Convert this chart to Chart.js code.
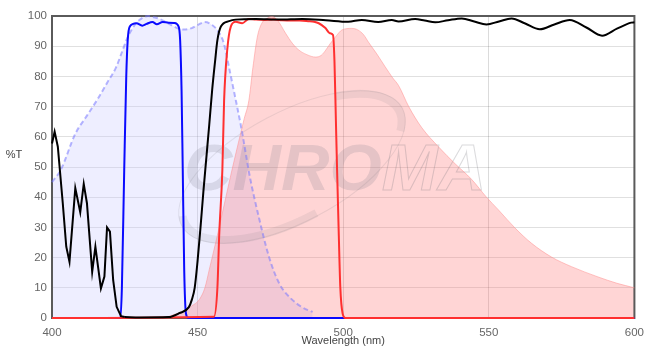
<!DOCTYPE html>
<html>
<head>
<meta charset="utf-8">
<script src="https://cdn.jsdelivr.net/npm/chart.js@4.4.1/dist/chart.umd.min.js"></script>
<style>
  html, body { margin: 0; padding: 0; background: #fff; }
  #wrap { width: 652px; height: 354px; }
</style>
</head>
<body>
<div id="wrap"><canvas id="chart"></canvas></div>
<script>
// excitation spectrum (dashed, lavender fill)
const exWl = [400, 403, 408, 412, 416, 419, 422, 424, 426, 428, 430, 433, 435, 437, 439, 441, 443, 445.5, 448, 450, 452.5, 455, 457, 459, 461, 462.5, 465, 468, 471, 474.5, 478, 482, 486, 489.5];
const exT  = [45, 49, 61, 67, 73, 78, 83, 88, 93, 96.5, 98.7, 100, 99.6, 99, 98, 97, 96, 95.5, 96, 97, 98, 97, 95, 91, 82, 75, 63, 46.5, 33.5, 20.3, 11.5, 6.5, 3.5, 2];

// emission spectrum (pink fill)
const emWl = [440, 443, 446, 448, 450.5, 452.5, 454, 456.7, 459.7, 461.8, 464, 466, 467.6, 469, 470.5, 472, 474, 475.5, 477.5, 480.2, 482.5, 484.8, 487.5, 490.5, 492.5, 494, 495.5, 497.3, 499.6, 503, 505, 507, 508.7, 511.5, 514.4, 517, 519, 522.5, 527, 532.7, 538.5, 544, 549.2, 553.3, 559, 564.6, 571.5, 578.4, 587.5, 594, 600];
const emT  = [0.5, 1.5, 2.6, 4, 6, 10, 16, 27, 40, 49, 58, 66, 72, 83, 93, 97.5, 99.3, 99.8, 98.5, 94.3, 91, 88.7, 87.2, 86.4, 87, 88.7, 90.8, 93, 95.4, 95.9, 95.4, 93.8, 91.3, 87.5, 83.2, 79.5, 77, 70, 63, 56.7, 51, 46, 40, 35.8, 29.8, 24.8, 20.2, 17, 13.6, 11.5, 10];

// excitation filter (blue)
const blueWl = [400, 423.5, 424, 424.8, 425.5, 426, 426.7, 429, 431, 432.5, 434.5, 436, 438, 440, 442, 443.5, 444, 444.5, 444.9, 445.4, 446, 446.8, 500, 600];
const blueT  = [0, 0, 10, 49, 80, 92, 96.5, 97.6, 96.8, 97.4, 98, 97.3, 98, 97.8, 97.7, 96.5, 92, 75, 49, 16, 1.5, 0, 0, 0];

// dichroic (black)
const blackWl = [400, 400.9, 402, 403.7, 404.9, 406, 408, 409.7, 410.9, 412, 413.8, 414.9, 416.8, 418, 418.9, 419.9, 421, 422.2, 423.7, 425, 430, 440, 443.7, 447, 448, 449, 450, 451, 452, 453, 454, 455, 456, 456.8, 458, 460.8, 463, 470, 478, 486, 494, 501.7, 506.4, 512, 516.7, 519, 524.7, 528, 531.6, 536, 540.7, 545, 549.2, 553.5, 557.8, 562.5, 567.5, 572.5, 577.8, 583.5, 588.9, 594, 598.9, 600];
const blackT  = [57.8, 61.7, 56.7, 38, 23.6, 18.6, 43, 35, 44.4, 38, 15.3, 23.6, 9.8, 13.7, 30, 28.6, 12.6, 3.7, 0.6, 0.3, 0.2, 0.3, 1.6, 3.6, 6, 10, 19, 30, 42, 53, 64, 75.5, 85, 92, 96.5, 98.3, 98.8, 99, 98.8, 99, 98.6, 98.1, 98.7, 98, 98.7, 98.2, 99, 98.5, 97.9, 98.6, 99.2, 98.2, 97.2, 98.2, 99.2, 97.5, 95.6, 97.2, 98.7, 96.2, 93.5, 95.8, 97.8, 97.9];

// emission filter (red)
const redWl = [400, 455.6, 456.8, 457.4, 458.5, 459.1, 460.2, 461.4, 463.1, 465.3, 467.6, 470, 473, 476, 479, 482, 485, 488, 490, 491.6, 493.9, 495.4, 496.5, 497, 497.5, 497.9, 498.5, 499, 499.8, 500.8, 600];
const redT  = [0, 0.4, 10, 27, 49, 72, 89, 96.5, 98.1, 97.6, 99, 98.8, 98.7, 98.8, 98.6, 98.5, 98.5, 98.3, 98.1, 97.6, 96, 94.3, 93.7, 85, 65, 49, 27, 10.3, 1.5, 0, 0];

const xTicks = [400, 450, 500, 550, 600];
const yTicks = [0, 10, 20, 30, 40, 50, 60, 70, 80, 90, 100];

const pts = (xs, ys) => xs.map((x, i) => ({ x: x, y: ys[i] }));
// black trace: jagged part below 425 nm is drawn straight, the rest smoothed
const blackAll = pts(blackWl, blackT);
const blackJag = blackAll.filter(p => p.x <= 425);
const blackSmooth = blackAll.filter(p => p.x >= 425);

const frame = {
  id: 'frame',
  beforeDatasetsDraw(chart) {
    const { ctx, chartArea: a } = chart;
    ctx.save();
    // watermark
    ctx.save();
    ctx.beginPath();
    ctx.rect(a.left, a.top, a.right - a.left, a.bottom - a.top);
    ctx.clip();
    ctx.translate(292, 167);
    ctx.rotate(-28 * Math.PI / 180);
    ctx.strokeStyle = 'rgba(110,110,120,0.14)';
    ctx.lineWidth = 1;
    ctx.beginPath();
    ctx.ellipse(0, 0, 125, 55, 0, 0, Math.PI * 2);
    ctx.stroke();
    ctx.lineWidth = 8;
    ctx.strokeStyle = 'rgba(110,110,120,0.11)';
    ctx.beginPath();
    ctx.ellipse(0, 0, 121, 52, 0, Math.PI * 0.5, Math.PI * 1.05);
    ctx.stroke();
    ctx.beginPath();
    ctx.ellipse(0, 0, 121, 52, 0, -Math.PI * 0.3, Math.PI * 0.12);
    ctx.stroke();
    ctx.restore();

    ctx.save();
    ctx.translate(184, 190);
    ctx.scale(1.05, 1);
    ctx.font = 'italic bold 64px "Liberation Sans", Arial, sans-serif';
    ctx.textBaseline = 'alphabetic';
    ctx.textAlign = 'left';
    ctx.fillStyle = 'rgba(110,110,125,0.18)';
    ctx.fillText('CHRO', 0, 0);
    const w = ctx.measureText('CHRO').width;
    ctx.strokeStyle = 'rgba(110,110,120,0.25)';
    ctx.lineWidth = 1;
    ctx.strokeText('MA', w, 0);
    ctx.restore();

    // plot frame
    ctx.strokeStyle = '#5a5a5a';
    ctx.lineWidth = 2;
    ctx.strokeRect(a.left, a.top, a.right - a.left, a.bottom - a.top);
    ctx.restore();
  },
  afterDraw(chart) {
    const { ctx } = chart;
    ctx.save();
    ctx.font = '11px "Liberation Sans", Arial, sans-serif';
    ctx.fillStyle = '#444';
    ctx.textAlign = 'center';
    ctx.textBaseline = 'middle';
    ctx.fillText('%T', 14, 155);
    ctx.restore();
  }
};

new Chart(document.getElementById('chart'), {
  type: 'line',
  data: {
    datasets: [
      {
        data: blackJag,
        borderColor: '#000',
        borderWidth: 2,
        tension: 0,
        cubicInterpolationMode: 'default',
        fill: false,
        order: 1
      },
      {
        data: blackSmooth,
        borderColor: '#000',
        borderWidth: 2,
        fill: false,
        order: 1
      },
      {
        data: pts(redWl, redT),
        borderColor: '#ff3030',
        borderWidth: 2,
        fill: false,
        order: 2
      },
      {
        data: pts(blueWl, blueT),
        borderColor: '#0a0aff',
        borderWidth: 2,
        fill: false,
        order: 3
      },
      {
        data: pts(emWl, emT),
        borderColor: 'rgba(255,140,140,0.5)',
        borderWidth: 1,
        backgroundColor: 'rgba(255,99,99,0.27)',
        fill: 'origin',
        order: 4
      },
      {
        data: pts(exWl, exT),
        borderColor: 'rgba(120,120,255,0.55)',
        borderWidth: 2,
        borderDash: [5, 3],
        backgroundColor: 'rgba(200,200,255,0.3)',
        fill: 'origin',
        order: 5
      }
    ]
  },
  options: {
    responsive: true,
    maintainAspectRatio: false,
    animation: false,
    clip: false,
    layout: { padding: { top: 16, right: 16, left: 0, bottom: 0 } },
    elements: {
      point: { radius: 0 },
      line: { cubicInterpolationMode: 'monotone' }
    },
    plugins: {
      legend: { display: false },
      tooltip: { enabled: false },
      filler: { drawTime: 'beforeDatasetsDraw' }
    },
    scales: {
      x: {
        type: 'linear',
        min: 400,
        max: 600,
        afterFit: s => { s.height = 36; },
        afterBuildTicks: s => { s.ticks = xTicks.map(v => ({ value: v })); },
        grid: { color: 'rgba(0,0,0,0.14)', drawTicks: false },
        border: { display: false },
        ticks: { color: '#666', font: { size: 11.5 }, padding: 8, maxRotation: 0 },
        title: { display: true, text: 'Wavelength (nm)', color: '#444', font: { size: 11 }, padding: { top: 0, bottom: 6 } }
      },
      y: {
        min: 0,
        max: 100,
        afterFit: s => { s.width = 52; },
        afterBuildTicks: s => { s.ticks = yTicks.map(v => ({ value: v })); },
        grid: { color: 'rgba(0,0,0,0.12)', drawTicks: false },
        border: { display: false },
        ticks: { color: '#666', font: { size: 11.5 }, padding: 5 }
      }
    }
  },
  plugins: [frame]
});
</script>
</body>
</html>
